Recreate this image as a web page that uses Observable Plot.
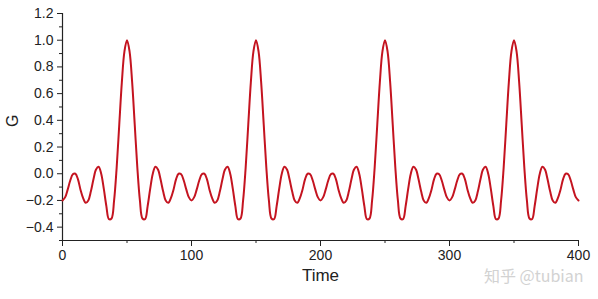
<!DOCTYPE html>
<html>
<head>
<meta charset="utf-8">
<script src="https://cdn.jsdelivr.net/npm/d3@7"></script>
<script src="https://cdn.jsdelivr.net/npm/@observablehq/plot@0.6"></script>
<style>
  html, body { margin: 0; padding: 0; background: #fff; }
  #chart svg { display: block; }
</style>
</head>
<body>
<div id="chart"></div>
<script>
// Sample times (every 2 time units, 0..400)
const time = d3.range(0, 401, 2);
// G values at those times
const G = [
  -0.2, -0.177, -0.119, -0.051, -0.004, 0.0, -0.042, -0.122, -0.183, -0.218,
  -0.2, -0.132, -0.042, 0.032, 0.052, 0.0, -0.112, -0.242, -0.34, -0.335,
  -0.2, 0.048, 0.368, 0.684, 0.915, 1.0, 0.915, 0.684, 0.368, 0.048,
  -0.2, -0.335, -0.34, -0.242, -0.112, 0.0, 0.052, 0.032, -0.042, -0.132,
  -0.2, -0.218, -0.183, -0.122, -0.042, 0.0, -0.004, -0.051, -0.119, -0.177,
  -0.2, -0.177, -0.119, -0.051, -0.004, 0.0, -0.042, -0.122, -0.183, -0.218,
  -0.2, -0.132, -0.042, 0.032, 0.052, 0.0, -0.112, -0.242, -0.34, -0.335,
  -0.2, 0.048, 0.368, 0.684, 0.915, 1.0, 0.915, 0.684, 0.368, 0.048,
  -0.2, -0.335, -0.34, -0.242, -0.112, 0.0, 0.052, 0.032, -0.042, -0.132,
  -0.2, -0.218, -0.183, -0.122, -0.042, 0.0, -0.004, -0.051, -0.119, -0.177,
  -0.2, -0.177, -0.119, -0.051, -0.004, 0.0, -0.042, -0.122, -0.183, -0.218,
  -0.2, -0.132, -0.042, 0.032, 0.052, 0.0, -0.112, -0.242, -0.34, -0.335,
  -0.2, 0.048, 0.368, 0.684, 0.915, 1.0, 0.915, 0.684, 0.368, 0.048,
  -0.2, -0.335, -0.34, -0.242, -0.112, 0.0, 0.052, 0.032, -0.042, -0.132,
  -0.2, -0.218, -0.183, -0.122, -0.042, 0.0, -0.004, -0.051, -0.119, -0.177,
  -0.2, -0.177, -0.119, -0.051, -0.004, 0.0, -0.042, -0.122, -0.183, -0.218,
  -0.2, -0.132, -0.042, 0.032, 0.052, 0.0, -0.112, -0.242, -0.34, -0.335,
  -0.2, 0.048, 0.368, 0.684, 0.915, 1.0, 0.915, 0.684, 0.368, 0.048,
  -0.2, -0.335, -0.34, -0.242, -0.112, 0.0, 0.052, 0.032, -0.042, -0.132,
  -0.2, -0.218, -0.183, -0.122, -0.042, 0.0, -0.004, -0.051, -0.119, -0.177,
  -0.2
];
const xTicks = [0, 100, 200, 300, 400];
const xMinorTicks = [50, 150, 250, 350];
const yTicks = [-0.4, -0.2, 0.0, 0.2, 0.4, 0.6, 0.8, 1.0, 1.2];
const yMinorTicks = [-0.5, -0.3, -0.1, 0.1, 0.3, 0.5, 0.7, 0.9, 1.1];
const xDomain = [0, 400];
const yDomain = [-0.5, 1.2];
const xTitle = "Time";
const yTitle = "G";
const watermark = "知乎 @tubian";

const data = time.map((t, i) => ({t, g: G[i]}));
const ink = "#222";

const chart = Plot.plot({
  width: 598,
  height: 299,
  marginLeft: 62,
  marginRight: 20,
  marginTop: 13,
  marginBottom: 59,
  style: {fontFamily: "'Liberation Sans', Arial, sans-serif", fontSize: "14px", background: "#fff", color: ink},
  x: {domain: xDomain},
  y: {domain: yDomain},
  marks: [
    Plot.ruleX([xDomain[0]], {stroke: ink, strokeWidth: 1.2}),
    Plot.ruleY([yDomain[0]], {stroke: ink, strokeWidth: 1.2}),
    Plot.axisX(xTicks, {tickSize: 6, tickPadding: 4, label: null, stroke: ink, fill: ink, fontSize: 14}),
    Plot.axisX(xMinorTicks, {tickSize: 3, label: null, stroke: ink, fill: "none"}),
    Plot.axisY(yTicks, {tickSize: 5, tickPadding: 4, label: null, tickFormat: d3.format(".1f"), stroke: ink, fill: ink, fontSize: 14}),
    Plot.axisY(yMinorTicks, {tickSize: 3, label: null, stroke: ink, fill: "none"}),
    Plot.line(data, {x: "t", y: "g", curve: "catmull-rom", stroke: "#c41420", strokeWidth: 2}),
    Plot.text([xTitle], {frameAnchor: "bottom", dy: 40, fontSize: 17, fill: ink}),
    Plot.text([yTitle], {frameAnchor: "left", dx: -50, rotate: -90, fontSize: 16, fill: ink}),
    Plot.text([watermark], {frameAnchor: "bottom-right", textAnchor: "end", dx: 5, dy: 41, fontSize: 16, fill: "#d2d2d2", fontFamily: "'Noto Sans CJK SC', 'Liberation Sans', sans-serif"})
  ]
});
document.getElementById("chart").appendChild(chart);
</script>
</body>
</html>
